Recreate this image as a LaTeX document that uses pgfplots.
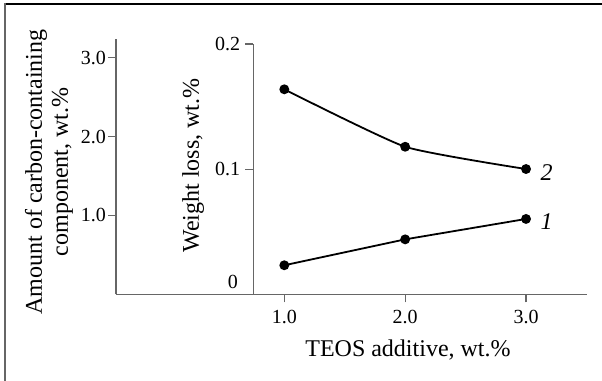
\documentclass[border=0pt]{standalone}
\usepackage{pgfplots}
\pgfplotsset{compat=1.18}
\usepackage{fontspec}
\setmainfont{Liberation Serif}
\definecolor{axgray}{rgb}{0.40,0.40,0.40}
\newcommand{\tickfont}{\fontsize{20bp}{22bp}\selectfont}
\newcommand{\labfont}{\fontsize{24bp}{26bp}\selectfont}
\begin{document}
\begin{tikzpicture}
\path[use as bounding box] (0,0) rectangle (602bp,381bp);
\draw[black, line width=1.3bp] (5bp,377bp) -- (602bp,377bp);
\draw[axgray, line width=1.3bp] (5bp,377.6bp) -- (5bp,0);
\begin{axis}[
  at={(116bp,86.7bp)}, anchor=south west,
  scale only axis, width=470.7bp, height=255.3bp,
  xmin=0, xmax=1, ymin=0, ymax=3.238,
  axis x line=bottom, axis y line=left,
  axis line style={-, axgray, line width=1.2bp},
  xtick=\empty, ytick={1,2,3}, yticklabels={1.0,2.0,3.0},
  tick align=outside, major tick length=8bp,
  tick style={axgray, line width=1.2bp},
  /pgf/number format/assume math mode=true,
  yticklabel style={font=\tickfont, inner sep=0pt, xshift=-2bp},
  ylabel={Amount of carbon-containing\\component, wt.\%},
  ylabel style={at={(axis description cs:-0.1423,0.479)}, anchor=center, align=center, font=\labfont},
]
\end{axis}
\begin{axis}[
  at={(253.3bp,86.7bp)}, anchor=south west,
  scale only axis, width=333.4bp, height=250.3bp,
  xmin=0.7435, xmax=3.502, ymin=0, ymax=0.2,
  axis x line=bottom, axis y line=left,
  axis line style={-, axgray, line width=1.2bp},
  xtick={1,2,3}, xticklabels={1.0,2.0,3.0},
  ytick={0.1,0.2}, yticklabels={0.1,0.2},
  tick align=outside, major tick length=8bp,
  tick style={axgray, line width=1.2bp},
  /pgf/number format/assume math mode=true,
  xticklabel style={font=\tickfont, yshift=-4bp},
  yticklabel style={font=\tickfont, inner sep=0pt, xshift=-5bp},
  clip=false,
  xlabel={TEOS additive, wt.\%},
  xlabel style={at={(axis description cs:0.464,0)}, anchor=base, yshift=-62.4bp, font=\labfont},
  ylabel={Weight loss, wt.\%},
  ylabel style={at={(axis description cs:-0.1632,0.5146)}, anchor=base, font=\labfont},
]
\addplot[black, line width=1.8bp, mark=*, mark size=4bp] coordinates {(1,0.0232) (2,0.0439) (3,0.0602)};
\addplot[black, line width=1.8bp, smooth, tension=0.3, mark=*, mark size=4bp] coordinates {(1,0.1638) (2,0.1179) (3,0.1001)};
\node[font=\itshape\labfont, anchor=base] at (axis cs:3.171,0.0913) {2};
\node[font=\itshape\labfont, anchor=base] at (axis cs:3.171,0.0514) {1};
\node[font=\tickfont, anchor=east, inner sep=0pt, xshift=-15.3bp] at (axis cs:0.7435,0.0098) {0};
\end{axis}
\end{tikzpicture}
\end{document}
